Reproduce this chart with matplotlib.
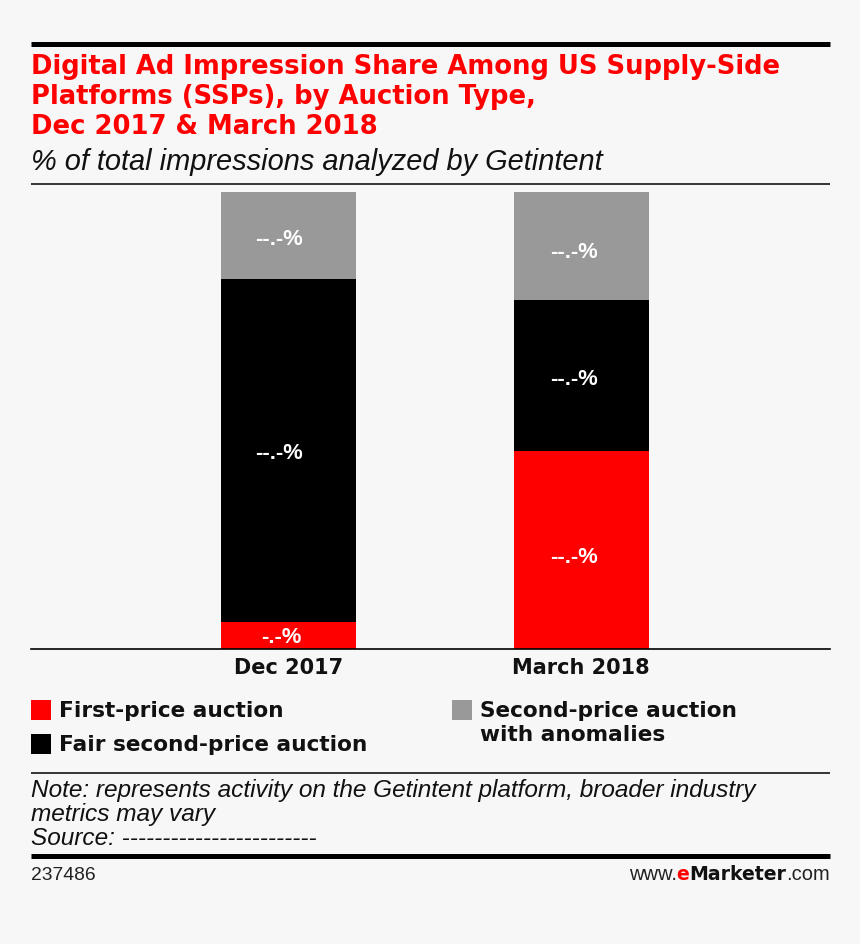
import matplotlib
matplotlib.use('Agg')
import matplotlib.pyplot as plt
from matplotlib.patches import Rectangle
from matplotlib.lines import Line2D

categories = ['Dec 2017', 'March 2018']
first_price = [5.8, 43.2]
fair_second = [75.1, 33.1]
anomalies = [19.1, 23.7]
bar_labels = [['-.-%', '--.-%'], ['--.-%', '--.-%'], ['--.-%', '--.-%']]
series_names = ['First-price auction', 'Fair second-price auction', 'Second-price auction\nwith anomalies']
colors = ['#ff0000', '#000000', '#999999']
title = 'Digital Ad Impression Share Among US Supply-Side\nPlatforms (SSPs), by Auction Type,\nDec 2017 & March 2018'
subtitle = '% of total impressions analyzed by Getintent'
note = 'Note: represents activity on the Getintent platform, broader industry\nmetrics may vary\nSource: ------------------------'

W, H = 860, 944
BG = '#f7f7f7'
HEAVY = ['DejaVu Sans']
LIGHT = ['Liberation Sans', 'DejaVu Sans']
plt.rcParams['font.family'] = LIGHT
fig = plt.figure(figsize=(W/100, H/100), dpi=100, facecolor=BG)

def X(x): return x/W
def Y(y): return 1-y/H

ax = fig.add_axes([X(31), Y(648.5), (830-31)/W, (648.5-191.5)/H])
ax.set_facecolor('none')
ax.set_xlim(31, 830)
ax.set_ylim(0, 100)
centers = [288.5, 581]
width = 135
# pixel nudges of the value labels: (dx, dy) per series per bar
nudges = [[(-7, 2), (-7, 8)], [(-10, 3), (-7, 4.5)], [(-10, 4), (-7, 7)]]
bottom = [0, 0]
for vals, col, labs, nd in zip([first_price, fair_second, anomalies], colors, bar_labels, nudges):
    ax.bar(centers, vals, width=width, bottom=bottom, color=col, edgecolor='none', linewidth=0)
    for c, v, b, l, (dx, dy) in zip(centers, vals, bottom, labs, nd):
        ax.annotate(l, (c, b+v/2), xytext=(dx*0.72, -dy*0.72), textcoords='offset points',
                    color='white', ha='center', va='center', fontsize=15.8, fontweight='bold')
    bottom = [a+b for a, b in zip(bottom, vals)]
for s in ['top', 'left', 'right']:
    ax.spines[s].set_visible(False)
ax.spines['bottom'].set_linewidth(1.2)
ax.set_yticks([])
ax.set_xticks(centers)
ax.set_xticklabels(categories, fontsize=15, fontweight='bold', family=HEAVY, color='#111111')
ax.tick_params(axis='x', length=0, pad=7)

def hline(y, lw):
    fig.add_artist(Line2D([X(31), X(830)], [Y(y), Y(y)], color='black', lw=lw, solid_capstyle='butt'))

hline(43.5, 3.6)
hline(183.5, 1.1)
hline(772.5, 1.1)
hline(855.5, 3.6)

fig.text(X(31), Y(54), title, color='#ff0000', fontsize=18.65, fontweight='bold', family=HEAVY,
         va='top', ha='left', linespacing=1.21)
fig.text(X(31), Y(162), subtitle, color='#111111', fontsize=20.85, style='italic', va='center', ha='left')

for (x, y), col, name, tx in zip([(31, 700), (31, 734), (452, 700)], colors, series_names, [59, 59, 480]):
    fig.add_artist(Rectangle((X(x), Y(y+20)), 20/W, 20/H, color=col, transform=fig.transFigure, lw=0))
    fig.text(X(tx), Y(y+1), name, fontsize=15.55, fontweight='bold', family=HEAVY, color='#111111',
             va='top', ha='left', linespacing=1.27)

fig.text(X(31), Y(779), note, fontsize=17.55, style='italic', color='#111111', va='top', ha='left', linespacing=1.05)
fig.text(X(31), Y(875), '237486', fontsize=13.9, color='#222222', va='center', ha='left')
t1 = fig.text(X(830), Y(874), '.com', fontsize=14.5, color='#222222', va='center', ha='right')
fig.canvas.draw()
r = fig.canvas.get_renderer()
x0 = t1.get_window_extent(r).x0
t2 = fig.text(x0/W, Y(874), 'Marketer', fontsize=13.6, fontweight='bold', family=HEAVY, color='#111111', va='center', ha='right')
x1 = t2.get_window_extent(r).x0
t3 = fig.text(x1/W, Y(874), 'e', fontsize=13.6, fontweight='bold', family=HEAVY, color='#ff0000', va='center', ha='right')
x2 = t3.get_window_extent(r).x0
fig.text(x2/W, Y(874), 'www.', fontsize=14.5, color='#222222', va='center', ha='right')

fig.savefig('out.png', dpi=100, facecolor=BG)
